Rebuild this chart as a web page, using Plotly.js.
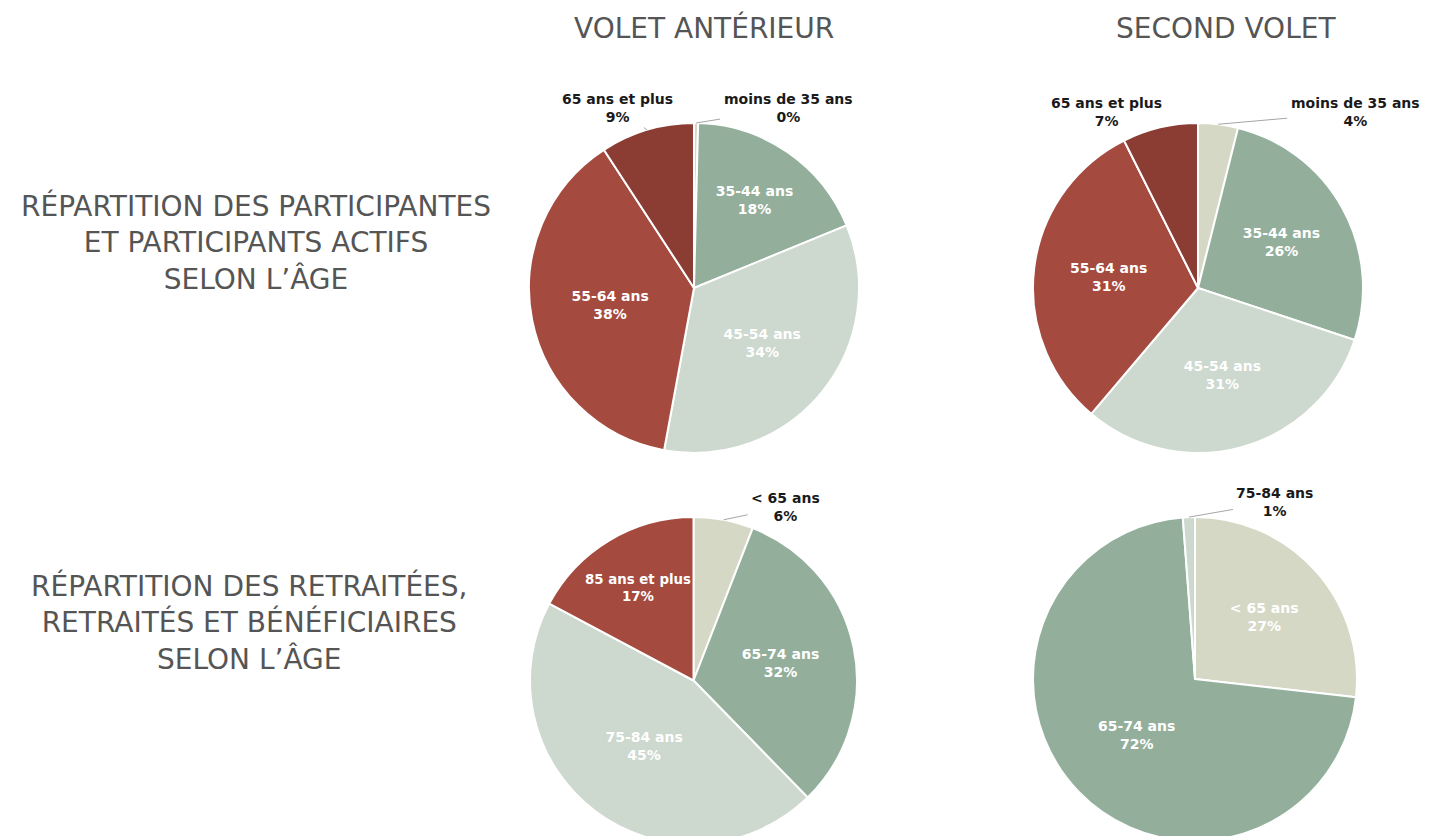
<!DOCTYPE html>
<html>
<head>
<meta charset="utf-8">
<script src="https://cdn.plot.ly/plotly-3.0.1.min.js"></script>
<style>
html,body{margin:0;padding:0;background:#fff;overflow:hidden;}
#wrap{width:1437px;height:836px;overflow:hidden;position:relative;}
#chart{width:1437px;height:1000px;}
</style>
</head>
<body>
<div id="wrap"><div id="chart"></div></div>
<script>
// Column and row headings
const columnTitles = ["VOLET ANTÉRIEUR", "SECOND VOLET"];
const rowTitle1 = ["RÉPARTITION DES PARTICIPANTES", "ET PARTICIPANTS ACTIFS", "SELON L’ÂGE"];
const rowTitle2 = ["RÉPARTITION DES RETRAITÉES,", "RETRAITÉS ET BÉNÉFICIAIRES", "SELON L’ÂGE"];

// Active participants
const activeLabels = ["moins de 35 ans", "35-44 ans", "45-54 ans", "55-64 ans", "65 ans et plus"];
const activeAnterieur = [0.4, 18.4, 34.1, 37.9, 9.2];
const activeSecond = [3.9, 26.2, 31.1, 31.4, 7.4];
const activeColors = ["#D5D8C5", "#93AF9C", "#CDD8CE", "#A44A3F", "#8B3D34"];

// Retirees & beneficiaries
const retiredLabelsAnterieur = ["< 65 ans", "65-74 ans", "75-84 ans", "85 ans et plus"];
const retiredAnterieur = [5.9, 31.8, 45.1, 17.2];
const retiredColorsAnterieur = ["#D5D8C5", "#93AF9C", "#CDD8CE", "#A44A3F"];

const retiredLabelsSecond = ["< 65 ans", "65-74 ans", "75-84 ans"];
const retiredSecond = [26.8, 72.0, 1.2];
const retiredColorsSecond = ["#D5D8C5", "#93AF9C", "#CDD8CE"];

const H = 1000, W = 1437;
const labelFamily = "DejaVu Sans, sans-serif";

function dom(cx, cy, r) {
  return {
    x: [(cx - r) / W, (cx + r) / W],
    y: [(H - (cy + r)) / H, (H - (cy - r)) / H]
  };
}

// Pie geometry (centre + radius in px); slices drawn by Plotly in these domains
const pies = [
  { labels: activeLabels, values: activeAnterieur, colors: activeColors, cx: 694, cy: 288, r: 165,
    outside: { 0: [92, -15], 4: [-29, -22] } },
  { labels: activeLabels, values: activeSecond, colors: activeColors, cx: 1198, cy: 288, r: 165,
    outside: { 0: [137, -12], 4: [-53, -15] } },
  { labels: retiredLabelsAnterieur, values: retiredAnterieur, colors: retiredColorsAnterieur, cx: 693.5, cy: 680.5, r: 163.5,
    outside: { 0: [62, -13] } },
  { labels: retiredLabelsSecond, values: retiredSecond, colors: retiredColorsSecond, cx: 1195, cy: 679, r: 162,
    outside: { 2: [86, -15] } }
];

const data = [];
const annotations = [];

pies.forEach(p => {
  const total = p.values.reduce((a, b) => a + b, 0);
  const textArr = p.labels.map((l, i) => p.outside[i] ? "" : l + "<br>" + Math.round(p.values[i] / total * 100) + "%");
  data.push({
    type: "pie",
    labels: p.labels,
    values: p.values,
    sort: false,
    direction: "clockwise",
    rotation: 0,
    domain: dom(p.cx, p.cy, p.r),
    marker: { colors: p.colors, line: { color: "#ffffff", width: 2 } },
    text: textArr,
    textinfo: "text",
    textposition: "inside",
    insidetextorientation: "horizontal",
    insidetextfont: { family: labelFamily, size: 14, color: "#ffffff", weight: "bold" },
    hoverinfo: "label+percent",
    showlegend: false
  });
  // outside labels with leader lines, anchored at each small slice's mid-angle on the rim
  let cum = 0;
  p.values.forEach((v, i) => {
    const mid = (cum + v / 2) / total;
    cum += v;
    if (!p.outside[i]) return;
    const th = 2 * Math.PI * mid;
    const px = p.cx + p.r * Math.sin(th);
    const py = p.cy - p.r * Math.cos(th);
    annotations.push({
      text: "<b>" + p.labels[i] + "</b><br><b>" + Math.round(v / total * 100) + "%</b>",
      x: px / W, y: (H - py) / H, xref: "paper", yref: "paper",
      ax: p.outside[i][0], ay: p.outside[i][1],
      showarrow: true, arrowhead: 0, arrowwidth: 1, arrowcolor: "#a6a6a6",
      standoff: 0, startstandoff: 2,
      align: "center",
      font: { family: labelFamily, size: 14, color: "#1a1a1a" }
    });
  });
});

const headFont = { family: "DejaVu Sans, sans-serif", size: 28, color: "#555555" };
function head(text, x, y) {
  annotations.push({ text: text, x: x / W, y: (H - y) / H, xref: "paper", yref: "paper",
    showarrow: false, xanchor: "center", yanchor: "middle", align: "center", font: headFont });
}
head(columnTitles[0], 704, 28);
head(columnTitles[1], 1225.5, 28);
head(rowTitle1.join("<br>"), 256, 242);
head(rowTitle2.join("<br>"), 250, 622);

const layout = {
  width: W,
  height: H,
  margin: { l: 0, r: 0, t: 0, b: 0 },
  paper_bgcolor: "#ffffff",
  annotations: annotations,
  font: { family: "DejaVu Sans, sans-serif" }
};

Plotly.newPlot("chart", data, layout, { displayModeBar: false, staticPlot: true });
</script>
</body>
</html>
